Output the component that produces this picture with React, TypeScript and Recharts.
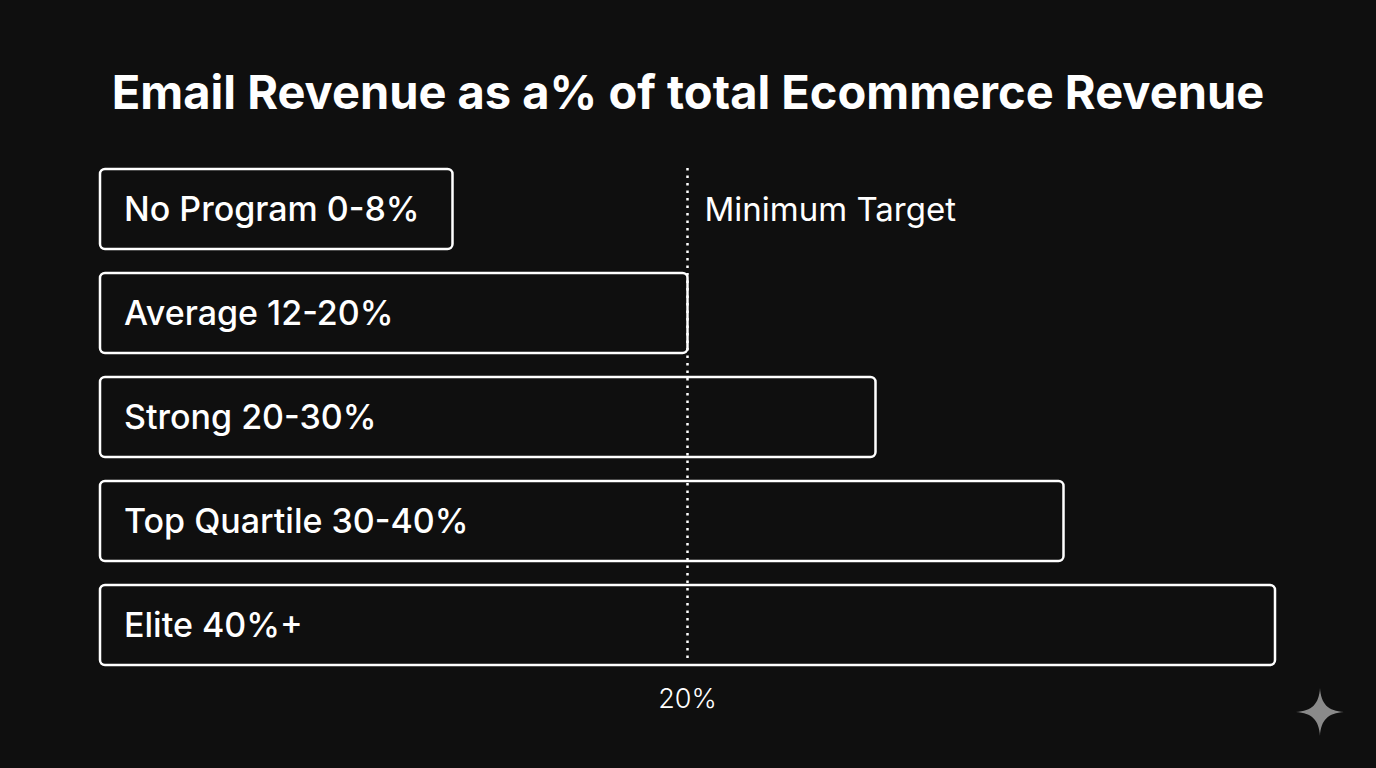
import { BarChart, Bar, XAxis, YAxis, ReferenceLine, LabelList } from 'recharts'

const tiers = ['No Program', 'Average', 'Strong', 'Top Quartile', 'Elite']
const ranges = ['0-8%', '12-20%', '20-30%', '30-40%', '40%+']
const barValues = [12, 20, 26.4, 32.8, 40]
const targetValue = 20
const targetName = 'Minimum Target'
const targetTick = '20%'
const title = 'Email Revenue as a% of total Ecommerce Revenue'

const data = tiers.map((tier, i) => ({ tier, range: ranges[i], value: barValues[i] }))

const BG = '#0f0f0f'
const FONT = 'Inter, "Noto Sans", sans-serif'

const TierLabel = (props: any) => {
  const { x, y, height, index } = props
  return (
    <text
      x={x + 24}
      y={y + height / 2}
      dy="0.36em"
      fill="#ffffff"
      fontSize={34}
      fontWeight={500}
      fontFamily={FONT}
    >
      {`${data[index].tier} ${data[index].range}`}
    </text>
  )
}

const TargetLine = (props: any) => {
  const { x1, y1, x2, y2 } = props
  const top = Math.min(y1, y2)
  const bottom = Math.max(y1, y2)
  return (
    <line
      x1={x1}
      x2={x2}
      y1={top + 11}
      y2={bottom - 17}
      stroke="#ffffff"
      strokeWidth={2.5}
      strokeDasharray="2.5 5"
    />
  )
}

const TargetLabel = (props: any) => {
  const { viewBox } = props
  const x = viewBox.x
  const top = viewBox.y
  const bottom = viewBox.y + viewBox.height
  return (
    <g fontFamily={FONT} fill="#ffffff">
      <text x={x + 17} y={top + 52} dy="0.36em" fontSize={33} fontWeight={400}>
        {targetName}
      </text>
      <text x={x} y={bottom + 21} dy="0.36em" fontSize={27} fontWeight={300} textAnchor="middle">
        {targetTick}
      </text>
    </g>
  )
}

export default function App() {
  return (
    <div
      style={{
        position: 'absolute',
        left: 0,
        top: 0,
        width: 1376,
        height: 768,
        background: BG,
        overflow: 'hidden',
      }}
    >
      <div
        style={{
          position: 'absolute',
          top: 62,
          left: 0,
          width: 1376,
          textAlign: 'center',
          color: '#ffffff',
          fontFamily: FONT,
          fontWeight: 700,
          fontSize: 47,
          lineHeight: '60px',
        }}
      >
        {title}
      </div>
      <BarChart
        width={1376}
        height={768}
        data={data}
        layout="vertical"
        margin={{ top: 157, right: 101, bottom: 91, left: 100 }}
        barSize={80}
      >
        <XAxis type="number" domain={[0, 40]} hide />
        <YAxis type="category" dataKey="tier" hide />
        <Bar
          dataKey="value"
          fill={BG}
          stroke="#ffffff"
          strokeWidth={2.5}
          radius={5}
          isAnimationActive={false}
        >
          <LabelList dataKey="value" content={TierLabel} />
        </Bar>
        <ReferenceLine x={targetValue} shape={TargetLine} label={TargetLabel} />
      </BarChart>
      <svg
        width={60}
        height={60}
        viewBox="0 0 60 60"
        style={{ position: 'absolute', left: 1290, top: 682 }}
      >
        <path
          d="M30 6 C31 22 38 29 54 30 C38 31 31 38 30 54 C29 38 22 31 6 30 C22 29 29 22 30 6 Z"
          fill="#8a8a8a"
        />
      </svg>
    </div>
  )
}
